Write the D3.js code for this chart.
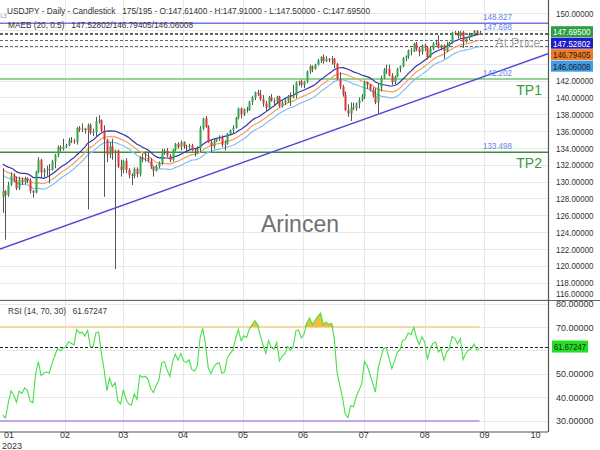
<!DOCTYPE html>
<html><head><meta charset="utf-8">
<script src="https://cdn.jsdelivr.net/npm/d3@7"></script>
<style>
body{margin:0;background:#fff;}
svg{display:block;font-family:"Liberation Sans",Arial,sans-serif;}
</style>
</head><body><svg id="c" width="600" height="450"></svg>
<script>
// ---------- DATA ----------
const priorCloses = [136.6,136.9,131.7,132.4,132.4,132.9,132.9,133.5,134.5,133.0,131.1,130.7,131.0,132.4,133.4,132.1,131.9,132.2,132.4,129.2,127.9,128.2,128.2];
const opens = [
128.2,128.9,128.4,129.6,130.7,130.2,129.2,130.2,129.9,130.4,
130.1,128.9,128.7,131.2,132.6,131.1,131.4,131.5,131.4,132.4,
133.2,134.1,133.9,134.2,134.3,134.9,134.8,134.7,136.4,136.2,
136.3,136.1,136.7,135.8,135.9,137.2,137.3,136.1,135.0,133.2,
134.2,133.4,133.7,131.8,131.4,132.5,131.4,130.8,130.7,131.5,
130.9,132.9,132.7,132.8,132.5,131.7,131.3,131.8,132.2,133.6,
133.7,133.1,132.6,133.8,134.5,134.1,134.7,134.2,134.1,134.3,
133.7,133.6,133.9,136.3,137.5,136.5,134.7,134.2,134.8,135.1,
135.2,134.4,134.5,135.7,136.1,136.4,137.6,138.7,138.0,138.6,
138.5,139.5,140.0,140.6,140.4,139.8,139.3,138.8,140.0,139.6,
139.5,140.1,139.0,139.4,139.6,140.2,140.0,140.3,141.8,141.9,
141.5,141.9,143.1,143.7,143.4,143.9,144.4,144.8,144.3,144.6,
144.5,144.6,144.0,142.2,141.3,140.3,138.5,138.1,138.8,138.7,
139.3,139.7,140.1,141.8,141.5,140.9,140.2,139.4,141.2,142.3,
143.3,143.4,142.6,141.8,142.5,143.4,143.7,144.7,144.9,145.6,
145.5,146.4,145.8,145.4,146.2,145.9,144.8,145.8,146.4,146.5,
145.9,146.2,145.5,146.2,146.5,147.7,147.6,147.3,147.8,146.6,
147.1,147.4,147.5,147.9,147.614];
const highs = [
131.6,129.0,130.0,131.1,131.0,130.6,130.6,130.5,130.6,130.5,
130.4,129.0,131.3,132.9,132.7,131.6,131.9,132.1,132.6,133.3,
134.3,134.3,135.1,134.5,135.2,135.3,135.1,136.5,136.6,136.9,
136.4,136.9,136.9,136.3,137.7,137.9,137.4,136.7,135.1,134.7,
135.1,133.8,133.8,132.6,132.6,132.8,131.6,131.0,131.7,131.7,
133.0,133.3,133.6,133.5,132.8,131.8,132.0,132.4,133.9,133.9,
134.0,133.3,133.9,134.6,134.7,134.9,134.8,134.4,134.5,134.5,
133.9,134.2,136.6,137.6,137.8,136.7,135.0,135.1,135.2,135.5,
135.5,134.9,135.8,136.2,136.7,137.7,138.8,138.8,138.7,138.9,
139.6,140.2,140.7,140.9,140.9,140.3,139.6,140.2,140.4,139.9,
140.2,140.2,139.6,139.8,140.3,140.6,141.5,141.9,142.0,142.1,
142.0,143.2,143.9,143.8,144.0,144.6,144.9,145.1,144.9,144.7,
144.9,144.7,144.1,143.0,141.5,140.7,139.2,139.4,139.4,139.4,
140.0,140.4,142.0,141.9,141.6,141.2,141.1,141.7,142.6,143.5,
143.9,143.9,142.9,142.6,143.5,143.8,144.8,145.0,145.7,145.9,
146.5,146.6,146.0,146.3,146.4,146.1,146.1,146.6,146.8,147.4,
146.3,146.3,146.6,146.6,147.8,147.9,147.9,147.9,147.9,147.2,
147.7,147.6,148.0,148.0,147.91];
const lows = [
126.3,123.1,128.2,129.5,129.9,129.0,129.0,129.6,129.7,129.8,
128.6,128.1,128.6,131.0,130.5,130.5,130.7,129.8,131.3,131.6,
132.9,133.6,133.7,134.0,134.2,134.6,134.5,134.4,135.9,135.9,
135.7,126.7,135.6,135.4,135.4,136.9,135.9,128.2,132.3,132.8,
132.6,119.6,131.6,130.6,131.0,131.0,130.4,129.6,130.4,130.5,
130.6,132.3,132.4,132.3,131.5,130.6,131.2,131.6,132.0,133.2,
132.9,132.3,132.4,133.6,133.9,133.7,133.9,133.6,133.9,133.6,
133.0,133.3,133.5,136.1,136.4,134.6,133.5,133.9,134.7,134.8,
134.1,133.7,134.4,135.5,135.7,136.3,137.4,137.5,137.8,138.2,
138.4,139.1,139.7,140.2,139.6,138.9,138.4,138.7,139.5,139.1,
139.3,138.8,138.8,139.1,139.4,139.0,139.9,139.9,141.4,141.2,
141.1,141.7,142.8,143.0,143.3,143.8,144.1,144.0,144.2,144.2,
143.9,143.5,142.1,141.0,140.1,138.4,137.7,137.2,138.5,138.4,
138.7,139.5,139.8,141.0,140.7,140.0,139.2,138.1,140.7,142.2,
142.8,142.5,141.5,141.6,142.4,143.0,143.6,144.3,144.6,145.0,
145.4,145.5,144.9,145.1,145.5,144.5,144.7,145.6,146.2,145.8,
145.6,144.6,145.4,146.0,146.4,147.4,147.0,147.1,145.9,146.5,
146.8,147.2,147.3,147.5,147.5];
const closes = [
128.9,128.4,129.6,130.7,130.2,129.2,130.2,129.9,130.4,130.1,
128.9,128.7,131.2,132.6,131.1,131.4,131.5,131.4,132.4,133.2,
134.1,133.9,134.2,134.3,134.9,134.8,134.7,136.4,136.2,136.3,
136.1,136.7,135.8,135.9,137.2,137.3,136.1,135.0,133.2,134.2,
133.4,133.7,131.8,131.4,132.5,131.4,130.8,130.7,131.5,130.9,
132.9,132.7,132.8,132.5,131.7,131.3,131.8,132.2,133.6,133.7,
133.1,132.6,133.8,134.5,134.1,134.7,134.2,134.1,134.3,133.7,
133.6,133.9,136.3,137.5,136.5,134.7,134.2,134.8,135.1,135.2,
134.4,134.5,135.7,136.1,136.4,137.6,138.7,138.0,138.6,138.5,
139.5,140.0,140.6,140.4,139.8,139.3,138.8,140.0,139.6,139.5,
140.1,139.0,139.4,139.6,140.2,140.0,140.3,141.8,141.9,141.5,
141.9,143.1,143.7,143.4,143.9,144.4,144.8,144.3,144.6,144.5,
144.6,144.0,142.2,141.3,140.3,138.5,138.1,138.8,138.7,139.3,
139.7,140.1,141.8,141.5,140.9,140.2,139.4,141.2,142.3,143.3,
143.4,142.6,141.8,142.5,143.4,143.7,144.7,144.9,145.6,145.5,
146.4,145.8,145.4,146.2,145.9,144.8,145.8,146.4,146.5,145.9,
146.2,145.5,146.2,146.5,147.7,147.6,147.3,147.8,146.6,147.1,
147.4,147.5,147.9,147.6,147.695];

const priceTicks = [116,118,120,122,124,126,128,130,132,134,136,138,140,142,144,146,148,150,152];
const priceLabelTicks = [116,118,120,122,124,126,128,130,132,134,136,138,140,142,150,152];
const rsiTicks = [30,40,50,60,70,80];
const rsiLabelTicks = [30,40,50,70,80];
const xTickPos = [2.3,22.7,44,65.8,87.7,109.6,131.8,154,175.8,194.4];
const xTickLabels = ["01","02","03","04","05","06","07","08","09","10"];
const xGridPos = [22.7,44,65.8,87.7,109.6,131.8,154,175.8];
const levelValues = [148.827,147.698,142.202,133.498];
const levelLabels = ["148.827","147.698","142.202","133.498"];
const targetValues = [142.202,133.498];
const targetNames = ["TP1","TP2"];
const trendIdx = [-1,199];
const trendPrice = [122.0,145.2];
const lastValues = [147.695,147.52802,146.79405,146.06008];
const lastLabels = ["147.69500","147.52802","146.79405","146.06008"];
const rsiLastValue = 61.67247;
const rsiLastLabel = "61.67247";
const titleText = "USDJPY - Daily - Candlestick\u00a0\u00a0\u00a0175/195 - O:147.61400 - H:147.91000 - L:147.50000 - C:147.69500";
const maebText = "MAEB (20, 0.5)\u00a0\u00a0\u00a0147.52802/146.79405/146.06008";
const rsiText = "RSI (14, 70, 30)\u00a0\u00a0\u00a061.67247";
const maPeriod = 20, envPct = 0.5, rsiPeriod = 14;

// ---------- INDICATORS (from the closes above) ----------
const allC = priorCloses.concat(closes);
const P = priorCloses.length;
const maMid = closes.map((c,i)=> d3.mean(allC.slice(P+i-maPeriod+1, P+i+1)));
const maUp = maMid.map(v=>v*(1+envPct/100));
const maLo = maMid.map(v=>v*(1-envPct/100));
const rsiAll = [];
{
  let g=0,l=0;
  for(let k=1;k<=rsiPeriod;k++){const d=allC[k]-allC[k-1]; if(d>0)g+=d; else l-=d;}
  g/=rsiPeriod; l/=rsiPeriod;
  rsiAll[rsiPeriod]=100-100/(1+g/l);
  for(let k=rsiPeriod+1;k<allC.length;k++){
    const d=allC[k]-allC[k-1];
    g=(g*(rsiPeriod-1)+Math.max(d,0))/rsiPeriod;
    l=(l*(rsiPeriod-1)+Math.max(-d,0))/rsiPeriod;
    rsiAll[k]=100-100/(1+g/l);
  }
}
const rsi = closes.map((c,i)=>rsiAll[P+i]);

// ---------- DRAW ----------
const FONT = "'Liberation Sans',Arial,sans-serif";
const svg = d3.select("#c");
const R = 548;
const x = d3.scaleLinear().domain([-1,199]).range([0,R]);
const y = d3.scaleLinear().domain([115.94,151.58]).range([300,0]);
const yr = d3.scaleLinear().domain([25.4,81.5]).range([431.7,300]);
const idx = d3.range(closes.length);

svg.append("rect").attr("width",600).attr("height",450).attr("fill","#fff");
const defs = svg.append("defs");
defs.append("clipPath").attr("id","cm").append("rect").attr("x",0).attr("y",0).attr("width",R).attr("height",300);
defs.append("clipPath").attr("id","cr").append("rect").attr("x",0).attr("y",300).attr("width",R).attr("height",132);

// grids
const grid = svg.append("g").attr("stroke","#e8e8e8").attr("stroke-width",1);
grid.selectAll(".hg").data(priceTicks).join("line").attr("class","hg").attr("x1",0).attr("x2",R)
  .attr("y1",d=>Math.round(y(d))+0.5).attr("y2",d=>Math.round(y(d))+0.5).attr("clip-path","url(#cm)");
grid.selectAll(".rg").data(rsiTicks).join("line").attr("class","rg").attr("x1",0).attr("x2",R)
  .attr("y1",d=>Math.round(yr(d))+0.5).attr("y2",d=>Math.round(yr(d))+0.5);
grid.selectAll(".vg").data(xGridPos).join("line").attr("class","vg")
  .attr("x1",d=>Math.round(x(d))+0.5).attr("x2",d=>Math.round(x(d))+0.5).attr("y1",0).attr("y2",432);

// watermark
svg.append("text").attr("x",300).attr("y",232).attr("text-anchor","middle")
  .attr("font-family",FONT).attr("font-size",23).attr("fill","#707070").text("Arincen");

const main = svg.append("g").attr("clip-path","url(#cm)");

// level lines
main.append("line").attr("x1",0).attr("x2",R).attr("y1",y(148.827)).attr("y2",y(148.827)).attr("stroke","#7474e8").attr("stroke-width",1.5);
main.append("line").attr("x1",0).attr("x2",R).attr("y1",y(142.202)).attr("y2",y(142.202)).attr("stroke","#72c472").attr("stroke-width",1.6);
main.append("line").attr("x1",0).attr("x2",R).attr("y1",y(133.498)).attr("y2",y(133.498)).attr("stroke","#3f8f3f").attr("stroke-width",1.6);

// dashed last-value lines
const dashVals = [147.698].concat(lastValues);
main.selectAll(".dl").data(dashVals).join("line").attr("class","dl").attr("x1",0).attr("x2",R)
  .attr("y1",d=>Math.round(y(d))+0.5).attr("y2",d=>Math.round(y(d))+0.5)
  .attr("stroke","#666").attr("stroke-width",1).attr("stroke-dasharray","3,2");

// trend line
main.append("line").attr("x1",x(trendIdx[0])).attr("x2",x(trendIdx[1]))
  .attr("y1",y(trendPrice[0])).attr("y2",y(trendPrice[1])).attr("stroke","#5146dc").attr("stroke-width",1.5);

// MA envelope
const mkLine = arr => d3.line().x(i=>x(i)).y(i=>y(arr[i]));
main.append("path").datum(idx).attr("d",mkLine(maLo)).attr("fill","none").attr("stroke","#82bff0").attr("stroke-width",1.2);
main.append("path").datum(idx).attr("d",mkLine(maMid)).attr("fill","none").attr("stroke","#f2a060").attr("stroke-width",1.2);
main.append("path").datum(idx).attr("d",mkLine(maUp)).attr("fill","none").attr("stroke","#3535a8").attr("stroke-width",1.2);

// candles
const cg = main.append("g");
cg.selectAll(".w").data(idx).join("line").attr("class","w")
  .attr("x1",i=>Math.round(x(i))+0.5).attr("x2",i=>Math.round(x(i))+0.5)
  .attr("y1",i=>y(highs[i])).attr("y2",i=>y(lows[i])).attr("stroke","#555").attr("stroke-width",1);
cg.selectAll(".b").data(idx).join("rect").attr("class","b")
  .attr("x",i=>Math.round(x(i))-0.5).attr("width",2)
  .attr("y",i=>y(Math.max(opens[i],closes[i])))
  .attr("height",i=>Math.max(1,Math.abs(y(opens[i])-y(closes[i]))))
  .attr("fill",i=>closes[i]>=opens[i]?"#2ea84a":"#e03535");

// level labels
const lvl = svg.append("g").attr("font-family",FONT).attr("font-size",9).attr("fill","#5f86e6").attr("text-anchor","end");
lvl.selectAll("text").data(levelValues).join("text").attr("x",512).attr("y",d=>y(d)-3)
  .attr("textLength",29).attr("lengthAdjust","spacingAndGlyphs").text((d,i)=>levelLabels[i]);

// TP labels
svg.append("g").attr("font-family",FONT).attr("font-size",14).attr("fill","#3a9a3a").attr("text-anchor","end")
  .selectAll("text").data(targetValues).join("text").attr("x",542).attr("y",d=>y(d)+16).text((d,i)=>targetNames[i]);

// At Price
svg.append("text").attr("x",495).attr("y",47).attr("font-family",FONT).attr("font-size",13).attr("fill","#a8a8a8").text("At Price");

// RSI panel
const rp = svg.append("g").attr("clip-path","url(#cr)");
const lastX = x(closes.length-1);
rp.append("line").attr("x1",0).attr("x2",lastX).attr("y1",yr(70)).attr("y2",yr(70)).attr("stroke","#f8d08c").attr("stroke-width",1.5);
rp.append("line").attr("x1",0).attr("x2",lastX).attr("y1",yr(30)).attr("y2",yr(30)).attr("stroke","#b38de6").attr("stroke-width",1.5);
rp.append("path").datum(idx).attr("d",d3.area().x(i=>x(i)).y0(yr(70)).y1(i=>yr(Math.max(70,rsi[i]))))
  .attr("fill","#f2bd3a");
rp.append("line").attr("x1",0).attr("x2",R).attr("y1",Math.round(yr(rsiLastValue))+0.5).attr("y2",Math.round(yr(rsiLastValue))+0.5)
  .attr("stroke","#222").attr("stroke-width",1).attr("stroke-dasharray","3,2");
rp.append("path").datum(idx).attr("d",d3.line().x(i=>x(i)).y(i=>yr(rsi[i]))).attr("fill","none").attr("stroke","#46e046").attr("stroke-width",1.1);

// frame lines
svg.append("line").attr("x1",0).attr("x2",600).attr("y1",300.5).attr("y2",300.5).attr("stroke","#666").attr("stroke-width",1);
svg.append("line").attr("x1",0).attr("x2",R).attr("y1",432).attr("y2",432).attr("stroke","#555").attr("stroke-width",1.2);
svg.append("line").attr("x1",R+0.5).attr("x2",R+0.5).attr("y1",0).attr("y2",432).attr("stroke","#555").attr("stroke-width",1.2);

// right axes
function styleAxis(g){
  g.attr("font-family",FONT).attr("font-size",9.5);
  g.select(".domain").remove();
  g.selectAll("text").attr("fill","#333").attr("textLength",37.5).attr("lengthAdjust","spacingAndGlyphs");
}
const ax = svg.append("g").attr("transform",`translate(${R},0)`)
  .call(d3.axisRight(y).tickValues(priceLabelTicks).tickSize(0).tickPadding(8).tickFormat(d=>d.toFixed(5)));
styleAxis(ax);
ax.selectAll(".tick").filter(d=>d===116).select("text").attr("transform","translate(0,-6)");
const axr = svg.append("g").attr("transform",`translate(${R},0)`)
  .call(d3.axisRight(yr).tickValues(rsiLabelTicks).tickSize(0).tickPadding(8).tickFormat(d=>d.toFixed(5)));
styleAxis(axr);

// last value boxes
const boxFill = ["#2e9e43","#1c1cc8","#f07a22","#3d9be8"];
const boxText = ["#fff","#fff","#222","#222"];
let prev = -100;
const centers = lastValues.map((v,i)=>{let c=(i===0)?y(v)-1:Math.max(y(v)-1, prev+11.5); prev=c; return c;});
const bx = svg.append("g").attr("font-family",FONT).attr("font-size",9.5);
bx.selectAll("rect").data(lastValues).join("rect").attr("x",551).attr("width",42).attr("height",11)
  .attr("y",(d,i)=>centers[i]-5.5).attr("fill",(d,i)=>boxFill[i]);
bx.selectAll("text").data(lastValues).join("text").attr("x",553).attr("y",(d,i)=>centers[i]+3.5)
  .attr("textLength",37.5).attr("lengthAdjust","spacingAndGlyphs")
  .attr("fill",(d,i)=>boxText[i]).text((d,i)=>lastLabels[i]);
const rc = yr(rsiLastValue);
svg.append("rect").attr("x",552).attr("y",rc-6).attr("width",36).attr("height",12).attr("fill","#22e022");
svg.append("text").attr("x",554).attr("y",rc+3.5).attr("font-family",FONT).attr("font-size",9.5).attr("fill","#222")
  .attr("textLength",32).attr("lengthAdjust","spacingAndGlyphs").text(rsiLastLabel);

// x axis labels
const xl = svg.append("g").attr("font-family",FONT).attr("font-size",9).attr("fill","#333").attr("text-anchor","middle");
xl.selectAll("text").data(xTickPos).join("text").attr("x",d=>x(d)).attr("y",438).text((d,i)=>xTickLabels[i]);
svg.append("text").attr("x",2).attr("y",448.5).attr("font-family",FONT).attr("font-size",9).attr("fill","#333").text("2023");

// header texts
const hdr = svg.append("g").attr("font-family",FONT).attr("font-size",9.5).attr("fill","#333");
hdr.append("text").attr("x",7).attr("y",14).attr("textLength",363).attr("lengthAdjust","spacingAndGlyphs").text(titleText);
hdr.append("text").attr("x",8).attr("y",28).attr("textLength",185).attr("lengthAdjust","spacingAndGlyphs").text(maebText);
hdr.append("text").attr("x",8).attr("y",314).attr("textLength",99).attr("lengthAdjust","spacingAndGlyphs").text(rsiText);
svg.append("text").attr("x",0.5).attr("y",18).attr("font-family",FONT).attr("font-size",5.5).attr("fill","#5a6fe0").attr("opacity",0.85).text("L3");
</script>
</body></html>
